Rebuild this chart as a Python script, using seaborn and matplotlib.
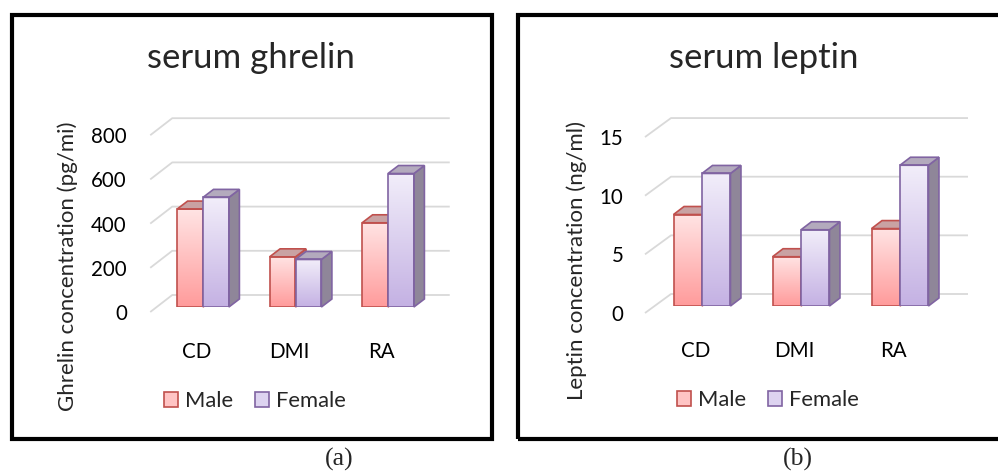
import numpy as np
import pandas as pd
import matplotlib
matplotlib.use('Agg')
import matplotlib.pyplot as plt
import seaborn as sns
from matplotlib.patches import Polygon, Rectangle, Patch
from matplotlib.colors import LinearSegmentedColormap
from matplotlib.transforms import ScaledTranslation

# 数据
groups = ['CD', 'DMI', 'RA']
sexes = ['Male', 'Female']
ghrelin_male = [443, 227, 381]
ghrelin_female = [496, 215, 604]
leptin_male = [7.8, 4.2, 6.6]
leptin_female = [11.3, 6.5, 12.0]
ghrelin_ticks = [0, 200, 400, 600, 800]
leptin_ticks = [0, 5, 10, 15]

# 颜色
male_edge, female_edge = '#C0504D', '#8064A2'
male_cmap = LinearSegmentedColormap.from_list('m', ['#FF9B9B', '#FFE4E4'])
female_cmap = LinearSegmentedColormap.from_list('f', ['#C4B1E3', '#F2EEFA'])
male_top, female_top = '#C9A2A3', '#B3AABD'
male_side, female_side = '#A07E80', '#8F8699'
grid_c = '#D9D9D9'

sns.set_theme(style='white')
plt.rcParams['font.family'] = ['Lato', 'DejaVu Sans']

W, H = 998, 473
fig = plt.figure(figsize=(W / 100, H / 100), dpi=100)


def px_axes(left, top, right, bottom):
    return fig.add_axes([left / W, (H - bottom) / H, (right - left) / W, (bottom - top) / H])


def draw_panel(ax, male, female, ticks, bar_w, back_off, front_off, ytick_shift, ytick_pad, xtick_dx):
    df = pd.DataFrame({'group': groups * 2,
                       'sex': ['Male'] * 3 + ['Female'] * 3,
                       'value': male + female})
    sns.barplot(data=df, x='group', y='value', hue='sex', order=groups, hue_order=sexes,
                palette=['#FFC4C4', '#DDD3F0'], width=bar_w, saturation=1, legend=False,
                errorbar=None, ax=ax)
    xlim = (-0.5, 2.5)
    ylim = (ticks[0], ticks[-1])
    ax.set_xlim(*xlim)
    ax.set_ylim(*ylim)
    pos = ax.get_position()
    sx = (xlim[1] - xlim[0]) / (pos.width * W)   # 每像素的数据单位
    sy = (ylim[1] - ylim[0]) / (pos.height * H)

    # 背景网格 (伪3D)
    ox, oy = back_off
    fx, fy = front_off
    for v in ticks:
        ax.plot([xlim[0] + fx * sx, xlim[0] + ox * sx, xlim[1] + ox * sx],
                [v + fy * sy, v + oy * sy, v + oy * sy],
                color=grid_c, lw=1.3, zorder=0.5, clip_on=False, solid_capstyle='butt')

    # 柱子: 渐变正面 + 顶面 + 侧面
    bdx, bdy = 10.5 * sx, 8 * sy
    bars = list(ax.patches)
    for i, p in enumerate(bars):
        is_male = i < len(groups)
        z = 2 if is_male else 3
        x0, w, h = p.get_x(), p.get_width(), p.get_height()
        img = ax.imshow(np.linspace(0, 1, 256).reshape(-1, 1), extent=[x0, x0 + w, 0, h],
                        origin='lower', aspect='auto', zorder=z,
                        cmap=male_cmap if is_male else female_cmap, interpolation='bicubic')
        img.set_clip_path(p)
        ec = male_edge if is_male else female_edge
        p.set_facecolor('none')
        p.set_edgecolor(ec)
        p.set_linewidth(1.2)
        p.set_zorder(z + 0.2)
        side = Polygon([(x0 + w, 0), (x0 + w + bdx, bdy), (x0 + w + bdx, h + bdy), (x0 + w, h)],
                       closed=True, facecolor=male_side if is_male else female_side,
                       edgecolor=ec, lw=1.2, zorder=z + 0.1, clip_on=False)
        top = Polygon([(x0, h), (x0 + w, h), (x0 + w + bdx, h + bdy), (x0 + bdx, h + bdy)],
                      closed=True, facecolor=male_top if is_male else female_top,
                      edgecolor=ec, lw=1.2, zorder=z + 0.15, clip_on=False)
        ax.add_patch(side)
        ax.add_patch(top)

    ax.set_xlim(*xlim)
    ax.set_ylim(*ylim)
    ax.set_aspect('auto')
    ax.set_xlabel('')
    ax.set_ylabel('')
    ax.grid(False)
    ax.patch.set_visible(False)
    sns.despine(ax=ax, left=True, bottom=True)
    ax.set_yticks(ticks)
    ax.tick_params(axis='y', length=0, pad=ytick_pad, labelsize=14.8, labelcolor='black')
    ax.tick_params(axis='x', length=0, pad=25, labelsize=14.8, labelcolor='black')
    for lbl in ax.get_yticklabels():
        lbl.set_transform(lbl.get_transform() + ScaledTranslation(0, -ytick_shift / 100, fig.dpi_scale_trans))
    for lbl in ax.get_xticklabels():
        lbl.set_transform(lbl.get_transform() + ScaledTranslation(xtick_dx / 100, 0, fig.dpi_scale_trans))


ax1 = px_axes(156.75, 307 - 0.221 * 800, 434.25, 307)
draw_panel(ax1, ghrelin_male, ghrelin_female, ghrelin_ticks, 0.56, (15.5, 12), (-6.5, -5), 5, 21.5, -6.5)
ax2 = px_axes(652.5, 306 - 11.73 * 15, 949.5, 306)
draw_panel(ax2, leptin_male, leptin_female, leptin_ticks, 0.575, (18.5, 12), (-7.5, -7), 7, 21, -6.5)

# 标题 / 轴标题
fig.text(251 / W, 1 - 68 / H, 'serum ghrelin', ha='center', va='baseline', fontsize=25)
fig.text(764 / W, 1 - 68 / H, 'serum leptin', ha='center', va='baseline', fontsize=25)
fig.text(68 / W, 1 - 266 / H, 'Ghrelin concentration (pg/mi)', rotation=90,
         ha='center', va='center', fontsize=16)
fig.text(577 / W, 1 - 260 / H, 'Leptin concentration (ng/ml)', rotation=90,
         ha='center', va='center', fontsize=16)

# 图例
handles = [Patch(facecolor='#FFC4C4', edgecolor=male_edge, lw=1.2),
           Patch(facecolor='#DDD3F0', edgecolor=female_edge, lw=1.2)]
for cx, cy in [(255, 401), (768, 400)]:
    fig.legend(handles=handles, labels=sexes, loc='center', bbox_to_anchor=(cx / W, 1 - cy / H),
               ncol=2, frameon=False, fontsize=15.8, handlelength=0.65, handleheight=0.65,
               handletextpad=0.3, columnspacing=1.0, borderaxespad=0, borderpad=0)

# 外框
for l, t, r, b in [(12, 15, 491.5, 438.5), (517.5, 15, 1005, 438.5)]:
    fig.add_artist(Rectangle((l / W, 1 - b / H), (r - l) / W, (b - t) / H,
                             transform=fig.transFigure, fill=False, lw=3, edgecolor='black'))

# 子图编号
fig.text(339 / W, 1 - 459 / H, '(a)', ha='center', va='center', fontsize=18.5,
         family=['Liberation Serif', 'DejaVu Serif'])
fig.text(798 / W, 1 - 459 / H, '(b)', ha='center', va='center', fontsize=18.5,
         family=['Liberation Serif', 'DejaVu Serif'])

fig.savefig('out.png', dpi=100)
